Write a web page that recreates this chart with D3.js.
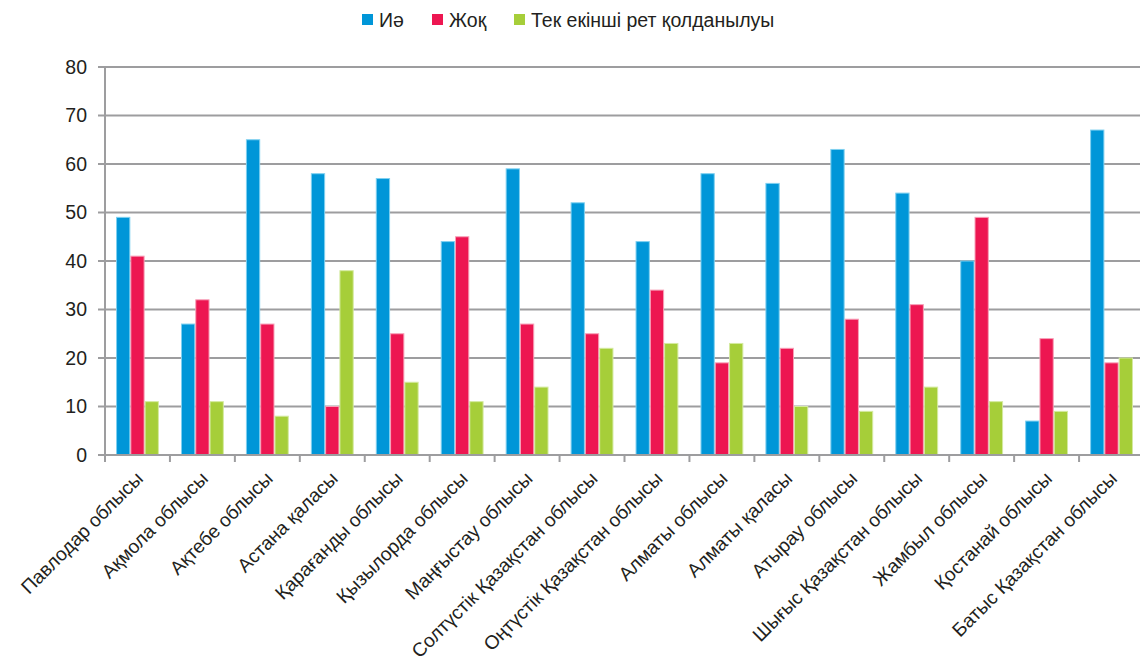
<!DOCTYPE html>
<html>
<head>
<meta charset="utf-8">
<script src="https://cdn.jsdelivr.net/npm/d3@7"></script>
<style>
  body { margin: 0; background: #fff; }
  #chart { width: 1140px; height: 664px; }
  text { font-family: "Liberation Sans", Arial, sans-serif; fill: #231f20; }
</style>
</head>
<body>
<div id="chart"></div>
<script>
const regions = [
  "Павлодар облысы", "Ақмола облысы", "Ақтебе облысы", "Астана қаласы",
  "Қарағанды облысы", "Қызылорда облысы", "Маңғыстау облысы",
  "Солтүстік Қазақстан облысы", "Оңтүстік Қазақстан облысы", "Алматы облысы",
  "Алматы қаласы", "Атырау облысы", "Шығыс Қазақстан облысы", "Жамбыл облысы",
  "Қостанай облысы", "Батыс Қазақстан облысы"
];
const seriesNames = ["Иә", "Жоқ", "Тек екінші рет қолданылуы"];
const yes = [49, 27, 65, 58, 57, 44, 59, 52, 44, 58, 56, 63, 54, 40, 7, 67];
const no = [41, 32, 27, 10, 25, 45, 27, 25, 34, 19, 22, 28, 31, 49, 24, 19];
const secondOnly = [11, 11, 8, 38, 15, 11, 14, 22, 23, 23, 10, 9, 14, 11, 9, 20];
const yTicks = [0, 10, 20, 30, 40, 50, 60, 70, 80];

const colors = ["#0096d8", "#ed1651", "#a6ce39"];
const strokes = ["#7fd0f0", "#f7a0b8", "#d4eaa0"];

const container = d3.select("#chart");
const width = 1140, height = 664;
const svg = container.append("svg").attr("width", width).attr("height", height);

const margin = { left: 105, right: -4, top: 67, bottom: 209 };

const values = [yes, no, secondOnly];
const data = regions.map((r, i) => ({ region: r, vals: values.map(v => v[i]) }));

const x = d3.scaleBand()
  .domain(regions)
  .range([margin.left, width - margin.right])
  .paddingInner(0.34)
  .paddingOuter(0.17);

const xSub = d3.scaleBand()
  .domain(d3.range(seriesNames.length))
  .range([0, x.bandwidth()]);

const y = d3.scaleLinear()
  .domain([0, 80])
  .range([height - margin.bottom, margin.top]);

const gridColor = "#9d9d9f";

// gridlines
svg.append("g")
  .selectAll("line")
  .data(yTicks)
  .join("line")
    .attr("x1", margin.left - 7)
    .attr("x2", width)
    .attr("y1", d => y(d))
    .attr("y2", d => y(d))
    .attr("stroke", gridColor)
    .attr("stroke-width", 2);

// y labels
svg.append("g")
  .selectAll("text")
  .data(yTicks)
  .join("text")
    .attr("x", margin.left - 18)
    .attr("y", d => y(d))
    .attr("dy", "0.35em")
    .attr("text-anchor", "end")
    .attr("font-size", 19.5)
    .text(d => d);

// bars
const groups = svg.append("g")
  .selectAll("g")
  .data(data)
  .join("g")
    .attr("transform", d => `translate(${x(d.region)},0)`);

groups.selectAll("rect")
  .data(d => d.vals.map((v, k) => ({ k, v })))
  .join("rect")
    .attr("x", d => xSub(d.k) + 0.5)
    .attr("width", xSub.bandwidth() - 1)
    .attr("y", d => y(d.v))
    .attr("height", d => y(0) - y(d.v))
    .attr("fill", d => colors[d.k])
    .attr("stroke", d => strokes[d.k])
    .attr("stroke-width", 1);

// axes lines
const x0 = margin.left;
svg.append("line")
  .attr("x1", x0).attr("x2", x0)
  .attr("y1", y(80)).attr("y2", y(0) + 7)
  .attr("stroke", gridColor).attr("stroke-width", 2);

svg.append("line")
  .attr("x1", x0 - 7).attr("x2", width)
  .attr("y1", y(0)).attr("y2", y(0))
  .attr("stroke", gridColor).attr("stroke-width", 2);

// category boundary ticks
const step = x.step();
svg.append("g")
  .selectAll("line")
  .data(d3.range(regions.length + 1))
  .join("line")
    .attr("x1", i => x0 + i * step)
    .attr("x2", i => x0 + i * step)
    .attr("y1", y(0))
    .attr("y2", y(0) + 7)
    .attr("stroke", gridColor)
    .attr("stroke-width", 2);

// rotated category labels
svg.append("g")
  .selectAll("text")
  .data(regions)
  .join("text")
    .attr("transform", d => `translate(${x(d) + x.bandwidth() / 2 + 2},${y(0) + 20}) rotate(-45)`)
    .attr("text-anchor", "end")
    .attr("dy", "0.35em")
    .attr("font-size", 19.2)
    .text(d => d);

// legend
const legendX = [362, 432, 514];
const legend = svg.append("g")
  .selectAll("g")
  .data(seriesNames)
  .join("g")
    .attr("transform", (d, i) => `translate(${legendX[i]},14)`);

legend.append("rect")
  .attr("width", 11).attr("height", 11)
  .attr("fill", (d, i) => colors[i]);

legend.append("text")
  .attr("x", 17)
  .attr("y", 6)
  .attr("dy", "0.35em")
  .attr("font-size", 19.5)
  .text(d => d);
</script>
</body>
</html>
